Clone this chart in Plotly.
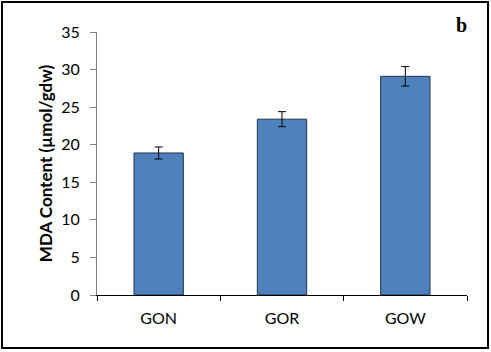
import plotly.graph_objects as go

categories = ["GON", "GOR", "GOW"]
mda_values = [18.9, 23.4, 29.1]
mda_errors = [0.8, 1.0, 1.3]
y_ticks = [0, 5, 10, 15, 20, 25, 30, 35]

W, H = 491, 352
L, R, T, B = 97, 24, 32, 57
pw, ph = W - L - R, H - T - B

fig = go.Figure()
fig.add_trace(go.Bar(
    x=categories, y=mda_values, width=0.4,
    marker=dict(color="#4F81BD", line=dict(color="#1F3450", width=1)),
    error_y=dict(type="data", array=mda_errors, visible=True,
                 color="black", thickness=1, width=4),
))

def px_x(p):
    return (p - L) / pw

def px_y(p):
    return (H - B - p) / ph

fig.update_layout(
    width=W, height=H,
    margin=dict(l=L, r=R, t=T, b=B),
    paper_bgcolor="white", plot_bgcolor="white",
    showlegend=False,
    font=dict(family="Lato, Open Sans, sans-serif", color="black"),
    xaxis=dict(
        showline=True, linecolor="black", linewidth=1,
        ticks="outside", tickson="boundaries", ticklen=5, tickcolor="black",
        tickfont=dict(size=16), ticklabelstandoff=9,
        showgrid=False, zeroline=False,
    ),
    yaxis=dict(
        range=[0, 35], tickvals=y_ticks,
        showline=True, linecolor="#808080", linewidth=1,
        ticks="outside", ticklen=6, tickcolor="#808080",
        tickfont=dict(size=16), ticklabelstandoff=7,
        showgrid=False, zeroline=False,
        title=dict(text="<b>MDA Content (µmol/gdw)</b>", font=dict(size=17), standoff=4),
    ),
    shapes=[dict(
        type="rect", xref="paper", yref="paper",
        x0=px_x(2), x1=px_x(488), y0=px_y(348), y1=px_y(2),
        line=dict(color="black", width=2), fillcolor="rgba(0,0,0,0)", layer="below",
    )],
    annotations=[dict(
        text="<b>b</b>", xref="paper", yref="paper",
        x=px_x(461), y=px_y(25), xanchor="center", yanchor="middle", showarrow=False,
        font=dict(family="Liberation Serif, serif", size=20, color="black"),
    )],
)

fig.write_html("out.html", config={"displayModeBar": False},
               post_script="document.body.style.margin='0';document.body.style.overflow='hidden';")
